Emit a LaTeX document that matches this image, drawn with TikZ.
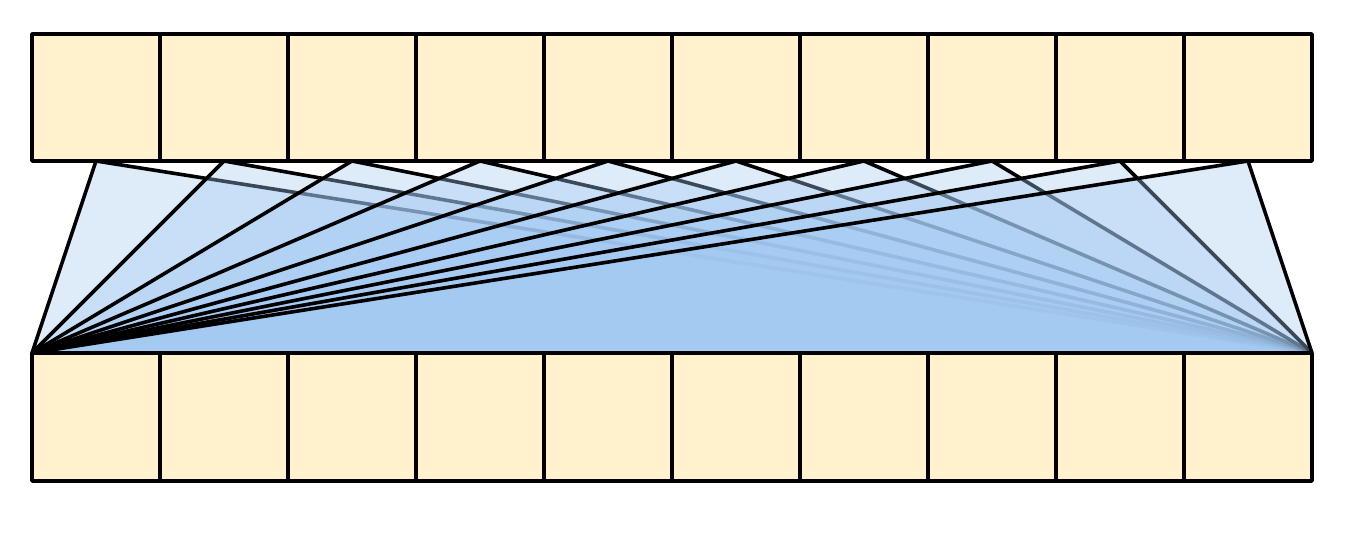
\documentclass[tikz,border=0pt]{standalone}
\usetikzlibrary{calc}
\definecolor{boxfill}{HTML}{FFF2CC}
\definecolor{fanblue}{RGB}{163,201,242}
\tikzset{
  cell/.style={draw=black, line width=3.8pt, fill=boxfill, minimum width=128pt, inner sep=0pt, outer sep=0pt, line join=round},
  toprow/.style={cell, minimum height=127pt},
  botrow/.style={cell, minimum height=128pt},
  fan/.style={draw=black, line width=3.6pt, fill=fanblue, fill opacity=0.36, line join=round}
}
\begin{document}
\begin{tikzpicture}[x=1pt,y=1pt]
\useasboundingbox (0,0) rectangle (1358,536);
% invisible placement of boxes first (coordinates), drawn after fans
\foreach \i in {0,...,9} {
  \path (96+128*\i,438.5) node[toprow, draw=none, fill=none] (t\i) {};
  \path (96+128*\i,119) node[botrow, draw=none, fill=none] (b\i) {};
}
\foreach \i in {0,...,9} {
  \draw[fan] (b0.north west) -- (t\i.south) -- (b9.north east);
}
\foreach \i in {0,...,9} {
  \node[toprow] at (t\i) {};
  \node[botrow] at (b\i) {};
}
\end{tikzpicture}
\end{document}
